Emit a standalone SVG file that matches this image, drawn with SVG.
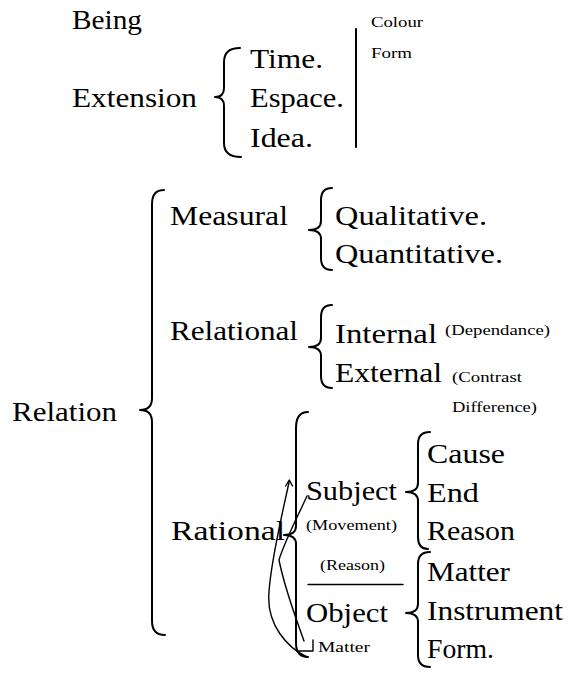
<svg xmlns="http://www.w3.org/2000/svg" width="570" height="677" viewBox="0 0 570 677">
<style>
.t{font-size:27px;fill:#000}
.s{font-size:15px;fill:#000}
.b{fill:none;stroke:#000;stroke-width:2;stroke-linecap:round;stroke-linejoin:round}
.l{fill:none;stroke:#000;stroke-width:1.4;stroke-linecap:round;stroke-linejoin:round}
</style>
<rect width="570" height="677" fill="#fff"/>
<g id="connectors">
  <path class="b" d="M240,48 Q224,48 224,62 L224,88 Q224,97 215,97 Q224,97 224,106 L224,143 Q224,157 241,157"/>
  <line class="b" x1="356" y1="29" x2="356" y2="147"/>
  <path class="b" d="M164,190 Q152,190 152,204 L152,398 Q152,410 140,410 Q152,410 152,422 L152,621 Q152,635 165,635"/>
  <path class="b" d="M332,188 Q321,188 321,200 L321,221 Q321,230 309,230 Q321,230 321,239 L321,258 Q321,270 332,270"/>
  <path class="b" d="M332,305 Q321,305 321,317 L321,338 Q321,347 309,347 Q321,347 321,356 L321,376 Q321,388 332,388"/>
  <path class="b" d="M308,412 Q296,412 296,428 L296,526 Q296,535 284,535 Q296,535 296,544 L296,643 Q296,657 308,657"/>
  <path class="b" d="M430,432 Q418,432 418,444 L418,483 Q418,492 406,492 Q418,492 418,501 L418,537 Q418,549 428,549"/>
  <path class="b" d="M430,552 Q418,552 418,564 L418,604 Q418,613 406,613 Q418,613 418,622 L418,655 Q418,667 430,667"/>
  <line class="l" x1="308" y1="584.5" x2="403" y2="584.5"/>
  <path class="l" d="M307,657 C288,648 266,625 269,592 C271,560 282,515 289.3,481"/>
  <path class="l" d="M285.6,486 L289.3,480 L292.4,486"/>
  <path class="l" d="M307,496 C296,520 284,543 279,560 C285,590 296,618 304,641"/>
  <path class="l" d="M297,651 L313,651 L313,640"/>
</g>
<g id="labels" font-family="Liberation Serif, Times New Roman, serif">
<g id="being"><text class="t" x="72" y="29" textLength="70" lengthAdjust="spacingAndGlyphs">Being</text></g>
<g id="extension"><text class="t" x="72" y="107" textLength="125" lengthAdjust="spacingAndGlyphs">Extension</text></g>
<g id="time"><text class="t" x="250" y="68" textLength="73" lengthAdjust="spacingAndGlyphs">Time.</text></g>
<g id="espace"><text class="t" x="250" y="107" textLength="94" lengthAdjust="spacingAndGlyphs">Espace.</text></g>
<g id="idea"><text class="t" x="250" y="147" textLength="63" lengthAdjust="spacingAndGlyphs">Idea.</text></g>
<g id="colour"><text class="s" x="371" y="27" textLength="52" lengthAdjust="spacingAndGlyphs">Colour</text></g>
<g id="form-top"><text class="s" x="371" y="58" textLength="41" lengthAdjust="spacingAndGlyphs">Form</text></g>
<g id="relation"><text class="t" x="12" y="421" textLength="105" lengthAdjust="spacingAndGlyphs">Relation</text></g>
<g id="measural"><text class="t" x="170" y="225" textLength="118" lengthAdjust="spacingAndGlyphs">Measural</text></g>
<g id="qualitative"><text class="t" x="335" y="225" textLength="152" lengthAdjust="spacingAndGlyphs">Qualitative.</text></g>
<g id="quantitative"><text class="t" x="335" y="263" textLength="168" lengthAdjust="spacingAndGlyphs">Quantitative.</text></g>
<g id="relational"><text class="t" x="170" y="340" textLength="128" lengthAdjust="spacingAndGlyphs">Relational</text></g>
<g id="internal"><text class="t" x="335" y="343" textLength="102" lengthAdjust="spacingAndGlyphs">Internal</text>
  <text class="s" x="445" y="335" textLength="105" lengthAdjust="spacingAndGlyphs">(Dependance)</text></g>
<g id="external"><text class="t" x="335" y="382" textLength="107" lengthAdjust="spacingAndGlyphs">External</text>
  <text class="s" x="452" y="382" textLength="70" lengthAdjust="spacingAndGlyphs">(Contrast</text>
  <text class="s" x="452" y="412" textLength="85" lengthAdjust="spacingAndGlyphs">Difference)</text></g>
<g id="rational"><text class="t" x="171" y="540" textLength="114" lengthAdjust="spacingAndGlyphs">Rational</text></g>
<g id="subject"><text class="t" x="306" y="500" textLength="91" lengthAdjust="spacingAndGlyphs">Subject</text>
  <text class="s" x="306" y="530" textLength="91" lengthAdjust="spacingAndGlyphs">(Movement)</text></g>
<g id="reason-label"><text class="s" x="320" y="570" textLength="65" lengthAdjust="spacingAndGlyphs">(Reason)</text></g>
<g id="object"><text class="t" x="306" y="622" textLength="82" lengthAdjust="spacingAndGlyphs">Object</text></g>
<g id="matter-small"><text class="s" x="318" y="652" textLength="52" lengthAdjust="spacingAndGlyphs">Matter</text></g>
<g id="cause"><text class="t" x="427" y="463" textLength="78" lengthAdjust="spacingAndGlyphs">Cause</text></g>
<g id="end"><text class="t" x="427" y="502" textLength="52" lengthAdjust="spacingAndGlyphs">End</text></g>
<g id="reason"><text class="t" x="427" y="540" textLength="88" lengthAdjust="spacingAndGlyphs">Reason</text></g>
<g id="matter"><text class="t" x="427" y="581" textLength="83" lengthAdjust="spacingAndGlyphs">Matter</text></g>
<g id="instrument"><text class="t" x="427" y="620" textLength="136" lengthAdjust="spacingAndGlyphs">Instrument</text></g>
<g id="form"><text class="t" x="427" y="658" textLength="67" lengthAdjust="spacingAndGlyphs">Form.</text></g>
</g>
</svg>
